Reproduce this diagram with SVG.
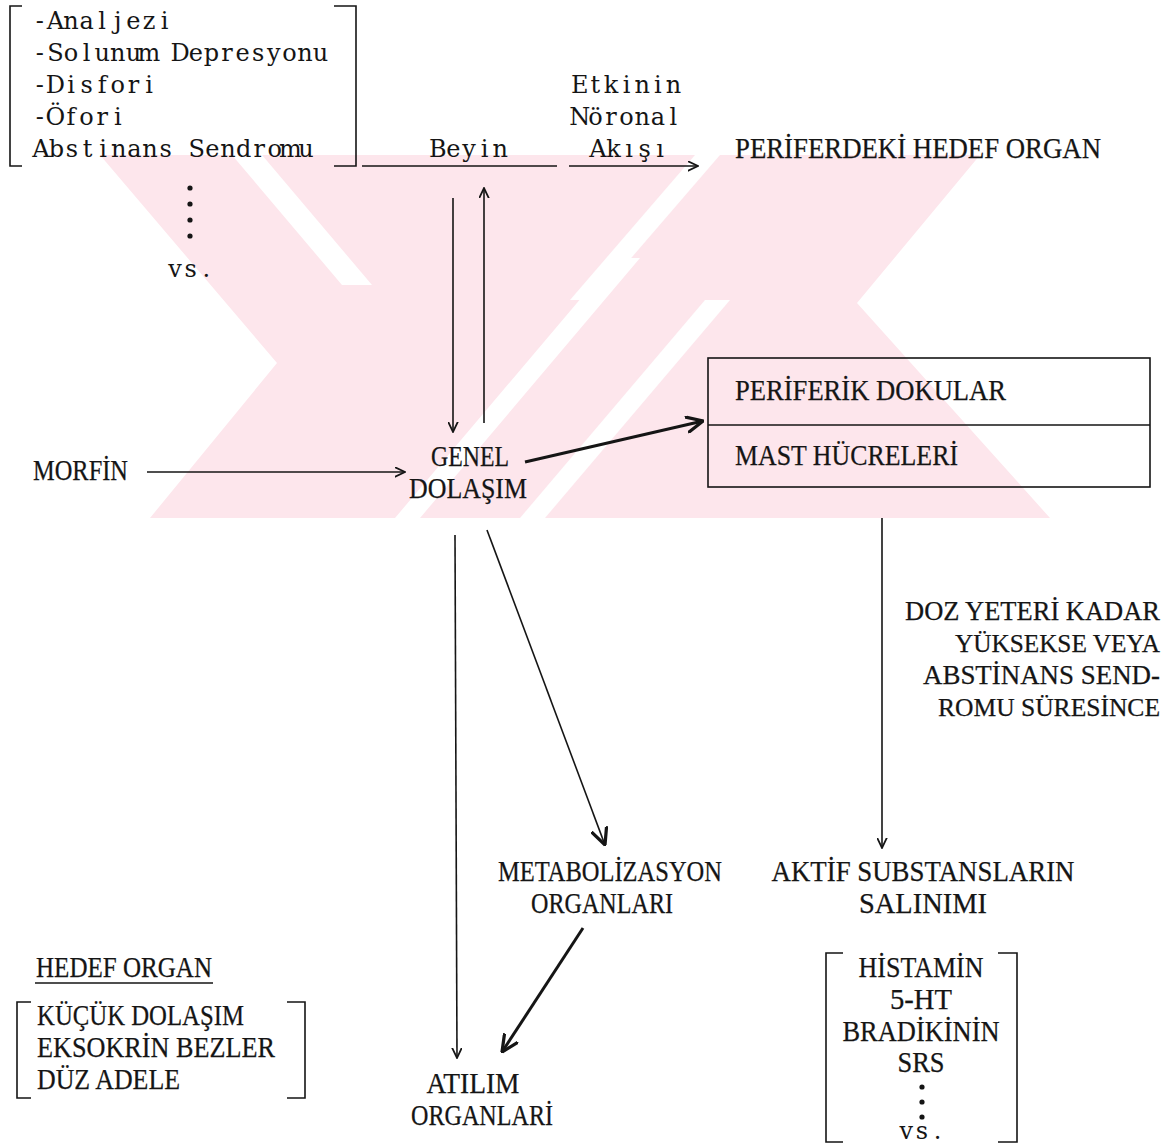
<svg xmlns="http://www.w3.org/2000/svg" width="1169" height="1144" viewBox="0 0 1169 1144">
<style>
.c{font-family:"DejaVu Serif","Liberation Serif",serif;font-size:24px;fill:#151515;text-anchor:middle}
.t{font-family:"Liberation Serif","DejaVu Serif",serif;font-size:29px;fill:#151515;stroke:#151515;stroke-width:0.25}
.s{font-size:27px}
.s2{font-size:25px}
.m{text-anchor:middle}
.ln{fill:none;stroke:#151515;stroke-width:1.6}
.thk{fill:none;stroke:#151515;stroke-width:3}
.wm{fill:#fde6ec}
.wg{fill:#ffffff}
.dot{fill:#151515}
</style>
<defs>
<marker id="ah" viewBox="0 0 10 10" refX="9.5" refY="5" markerWidth="11" markerHeight="11" markerUnits="userSpaceOnUse" orient="auto">
<path d="M0,0.5 L9.5,5 L0,9.5" fill="none" stroke="#151515" stroke-width="1.6"/>
</marker>
<marker id="ahb" viewBox="0 0 10 10" refX="9.5" refY="5" markerWidth="18" markerHeight="18" markerUnits="userSpaceOnUse" orient="auto">
<path d="M0,0.5 L9.5,5 L0,9.5" fill="none" stroke="#151515" stroke-width="1.8"/>
</marker>
<clipPath id="wmclip"><rect x="0" y="155" width="1169" height="363"/></clipPath>
</defs>
<rect width="1169" height="1144" fill="#ffffff"/>
<g id="watermark" clip-path="url(#wmclip)">
<polygon class="wm" points="100,155 980,155 857,303 1050,518 150,518 277,363"/>
<polygon class="wg" points="232,155 262,155 372,285 342,285"/>
<polygon class="wg" points="395,518 420,518 640,258 615,258"/>
<polygon class="wg" points="520,518 545,518 730,300 705,300"/>
<polygon class="wg" points="570,300 595,300 720,155 695,155"/>
</g>
<g id="connectors">
<path class="ln" d="M362,166 H557"/>
<path class="ln" d="M569,166 H698" marker-end="url(#ah)"/>
<path class="ln" d="M453,198 V432" marker-end="url(#ah)"/>
<path class="ln" d="M484,423 V188" marker-end="url(#ah)"/>
<path class="ln" d="M147,472 H405" marker-end="url(#ah)"/>
<path class="thk" d="M525,462 L703,421" stroke-width="2.4" marker-end="url(#ahb)"/>
<path class="ln" d="M882,518 V848" marker-end="url(#ah)"/>
<path class="ln" d="M487,530 L605,845" marker-end="url(#ahb)"/>
<path class="ln" d="M455,535 L457,1058" marker-end="url(#ah)"/>
<path class="thk" d="M583,928 L502,1052" marker-end="url(#ahb)"/>
</g>
<g id="effects-list">
<path class="ln" d="M22,6 H10 V166 H22"/>
<path class="ln" d="M334,6 H356 V166 H334"/>
<text class="c" x="39.8 55.4 71 86.6 102.2 117.8 133.4 149 164.6" y="29">-Analjezi</text>
<text class="c" x="39.8 55.4 71 86.6 102.2 117.8 133.4 149 164.6 180.2 195.8 211.4 227 242.6 258.2 273.8 289.4 305 320.6" y="61">-Solunum Depresyonu</text>
<text class="c" x="39.8 55.4 71 86.6 102.2 117.8 133.4 149" y="93">-Disfori</text>
<text class="c" x="39.8 55.4 71 86.6 102.2 117.8" y="125">-Öfori</text>
<text class="c" x="40.8 56.4 72 87.6 103.2 118.8 134.4 150 165.6 181.2 196.8 212.4 228 243.6 259.2 274.8 290.4 306" y="157">Abstinans Sendromu</text>
<circle class="dot" cx="190" cy="188" r="2.6"/>
<circle class="dot" cx="190" cy="204" r="2.6"/>
<circle class="dot" cx="190" cy="220" r="2.6"/>
<circle class="dot" cx="190" cy="236" r="2.6"/>
<text class="c" x="175 190.6 206.2" y="277">vs.</text>
</g>
<g id="beyin"><text class="c" x="437.8 453.4 469 484.6 500.2" y="157">Beyin</text></g>
<g id="noronal-akis">
<text class="c" x="579.8 595.4 611 626.6 642.2 657.8 673.4" y="93">Etkinin</text>
<text class="c" x="579.8 595.4 611 626.6 642.2 657.8 673.4" y="125">Nöronal</text>
<text class="c" x="597.8 613.4 629 644.6 660.2" y="157">Akışı</text>
</g>
<g id="periferdeki-hedef-organ"><text class="t" x="735" y="158" textLength="366" lengthAdjust="spacingAndGlyphs">PERİFERDEKİ HEDEF ORGAN</text></g>
<g id="morfin"><text class="t" x="33" y="480" textLength="95" lengthAdjust="spacingAndGlyphs">MORFİN</text></g>
<g id="genel-dolasim">
<text class="t m" x="470" y="466" textLength="78" lengthAdjust="spacingAndGlyphs">GENEL</text>
<text class="t m" x="468" y="498" textLength="118" lengthAdjust="spacingAndGlyphs">DOLAŞIM</text>
</g>
<g id="periferik-dokular">
<rect class="ln" x="708" y="358" width="442" height="129"/>
<path class="ln" d="M708,425 H1150"/>
<text class="t" x="735" y="400" textLength="271" lengthAdjust="spacingAndGlyphs">PERİFERİK DOKULAR</text>
<text class="t" x="735" y="465" textLength="223" lengthAdjust="spacingAndGlyphs">MAST HÜCRELERİ</text>
</g>
<g id="doz-kosulu">
<text class="t s" x="905" y="620" textLength="255" lengthAdjust="spacingAndGlyphs">DOZ YETERİ KADAR</text>
<text class="t s2" x="955" y="652" textLength="205" lengthAdjust="spacingAndGlyphs">YÜKSEKSE VEYA</text>
<text class="t s" x="923" y="684" textLength="237" lengthAdjust="spacingAndGlyphs">ABSTİNANS SEND-</text>
<text class="t s2" x="938" y="716" textLength="222" lengthAdjust="spacingAndGlyphs">ROMU SÜRESİNCE</text>
</g>
<g id="aktif-substanslar">
<text class="t m" x="923" y="881" textLength="303" lengthAdjust="spacingAndGlyphs">AKTİF SUBSTANSLARIN</text>
<text class="t m" x="923" y="913" textLength="128" lengthAdjust="spacingAndGlyphs">SALINIMI</text>
</g>
<g id="metabolizasyon">
<text class="t m" x="610" y="881" textLength="224" lengthAdjust="spacingAndGlyphs">METABOLİZASYON</text>
<text class="t m" x="602" y="913" textLength="142" lengthAdjust="spacingAndGlyphs">ORGANLARI</text>
</g>
<g id="atilim">
<text class="t m" x="473" y="1093" textLength="93" lengthAdjust="spacingAndGlyphs">ATILIM</text>
<text class="t m" x="482" y="1125" textLength="142" lengthAdjust="spacingAndGlyphs">ORGANLARİ</text>
</g>
<g id="hedef-organ">
<text class="t" x="36" y="977" textLength="176" lengthAdjust="spacingAndGlyphs">HEDEF ORGAN</text>
<path class="ln" d="M35,983 H213"/>
<path class="ln" d="M31,1002 H17 V1098 H31"/>
<path class="ln" d="M287,1002 H305 V1098 H287"/>
<text class="t" x="37" y="1025" textLength="207" lengthAdjust="spacingAndGlyphs">KÜÇÜK DOLAŞIM</text>
<text class="t" x="37" y="1057" textLength="238" lengthAdjust="spacingAndGlyphs">EKSOKRİN BEZLER</text>
<text class="t" x="37" y="1089" textLength="143" lengthAdjust="spacingAndGlyphs">DÜZ ADELE</text>
</g>
<g id="substans-listesi">
<path class="ln" d="M843,953 H826 V1142 H843"/>
<path class="ln" d="M998,953 H1017 V1142 H998"/>
<text class="t m" x="921" y="977" textLength="125" lengthAdjust="spacingAndGlyphs">HİSTAMİN</text>
<text class="t m" x="921" y="1009" textLength="62" lengthAdjust="spacingAndGlyphs">5-HT</text>
<text class="t m" x="921" y="1041" textLength="157" lengthAdjust="spacingAndGlyphs">BRADİKİNİN</text>
<text class="t m" x="921" y="1072" textLength="47" lengthAdjust="spacingAndGlyphs">SRS</text>
<circle class="dot" cx="922" cy="1087" r="2.6"/>
<circle class="dot" cx="922" cy="1102" r="2.6"/>
<circle class="dot" cx="922" cy="1117" r="2.6"/>
<text class="c" x="906.4 922 937.6" y="1139">vs.</text>
</g>
</svg>
